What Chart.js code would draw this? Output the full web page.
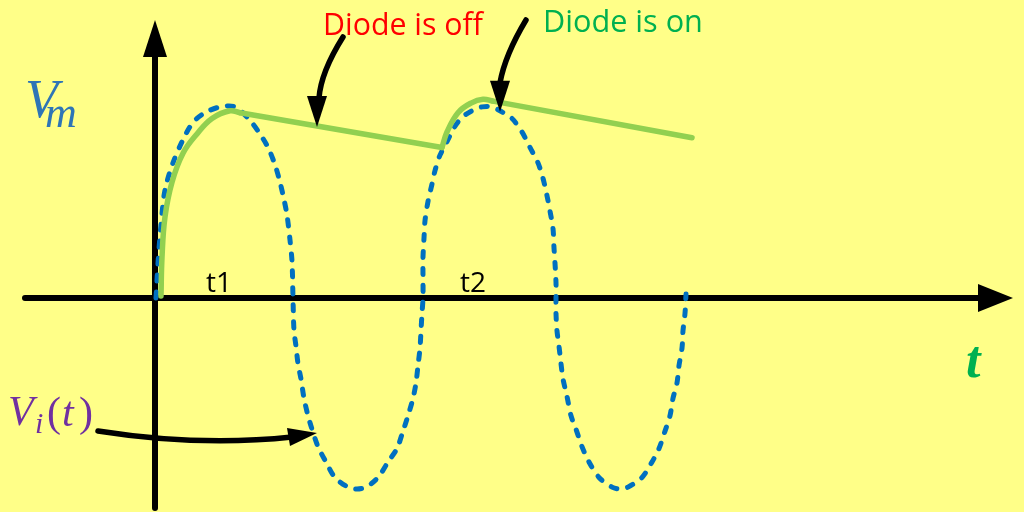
<!DOCTYPE html>
<html><head><meta charset="utf-8">
<script src="https://cdn.jsdelivr.net/npm/chart.js@4"></script>
<style>html,body{margin:0;padding:0;background:#FFFF88;overflow:hidden}#wrap{width:1024px;height:512px}</style>
</head><body><div id="wrap"><canvas id="c" width="1024" height="512"></canvas></div>
<script>
// Input voltage Vi(t) (dashed), normalised to Vm = 1
const inputT = [1,3,6,10,18,28,38,50,65,80,95,105,113,120,125,129,132,135,137,138,
  139,141,143,146,149,153,157,163,171,180,193,202,211,223,233,242,248,253,258,261,263,265,266,267,268,
  268,268,269,270,273,277,280,285,292,300,308,317,327,337,345,357,367,375,383,388,392,395,398,399,400,401,401,
  401,402,404,406,408,412,416,421,427,434,444,457,465,473,487,497,504,510,515,518,522,524,527,528,530,531];
const inputV = [0,0.18,0.38,0.56,0.70,0.82,0.91,0.96,0.99,0.99,0.92,0.85,0.78,0.69,0.60,0.51,0.43,0.30,0.19,0,
  -0.17,-0.25,-0.34,-0.42,-0.52,-0.61,-0.68,-0.77,-0.85,-0.93,-0.98,-0.99,-0.98,-0.93,-0.85,-0.78,-0.69,-0.61,-0.52,-0.44,-0.35,-0.26,-0.17,-0.08,0,
  0.10,0.21,0.31,0.40,0.50,0.59,0.66,0.74,0.81,0.89,0.94,0.97,0.99,0.99,0.97,0.93,0.86,0.78,0.70,0.62,0.53,0.45,0.36,0.26,0.18,0.08,0,
  -0.08,-0.17,-0.25,-0.34,-0.42,-0.51,-0.61,-0.68,-0.77,-0.85,-0.93,-0.98,-0.99,-0.98,-0.93,-0.85,-0.78,-0.69,-0.61,-0.52,-0.44,-0.35,-0.26,-0.17,-0.08,0.02];
// Output: diode conducting (follows input) — two pieces separated by null
const diodeOnT = [6,7,10,17,28,42,57,75,85,null,287,292,303,316,328,338];
const diodeOnV = [0.01,0.21,0.42,0.60,0.75,0.85,0.93,0.97,0.96,null,0.78,0.86,0.96,1.01,1.03,1.02];
// Output: diode off (capacitor discharge)
const diodeOffT = [85,287,null,338,537];
const diodeOffV = [0.96,0.78,null,1.02,0.83];
// Time markers on the t axis
const markerT = [64,318];
const markerLabels = ['t1','t2'];

function pts(T,V){return T.map((t,i)=>({x:t,y:V[i]}));}

const bgPlugin={id:'bg',beforeDraw(c){const g=c.ctx;g.save();g.fillStyle='#FFFF88';g.fillRect(0,0,c.width,c.height);g.restore();}};

function tri(g,a,b,d){g.beginPath();g.moveTo(a[0],a[1]);g.lineTo(b[0],b[1]);g.lineTo(d[0],d[1]);g.closePath();g.fill();}

const axesPlugin={id:'axes',beforeDatasetsDraw(c){
  const g=c.ctx,xs=c.scales.x,ys=c.scales.y;
  const x0=xs.getPixelForValue(0),y0=ys.getPixelForValue(0);
  g.save();g.strokeStyle='#000';g.fillStyle='#000';g.lineWidth=6;g.lineCap='round';
  g.beginPath();g.moveTo(x0,508);g.lineTo(x0,50);g.stroke();
  tri(g,[x0,20],[x0-12,57],[x0+12,57]);
  g.beginPath();g.moveTo(25,y0);g.lineTo(985,y0);g.stroke();
  tri(g,[1013,y0],[978,y0-14],[978,y0+14]);
  g.restore();
}};

function fitFont(g,text,style,family,w){g.font=style+' 40px '+family;const m=g.measureText(text).width;return 40*w/m;}

const annPlugin={id:'ann',afterDatasetsDraw(c){
  const g=c.ctx,xs=c.scales.x,ys=c.scales.y;
  const X=v=>xs.getPixelForValue(v),Y=v=>ys.getPixelForValue(v);
  g.save();
  // marker labels
  g.fillStyle='#000';g.font='28px "Open Sans", "Noto Sans", sans-serif';g.textAlign='center';g.textBaseline='alphabetic';
  markerLabels.forEach((s,i)=>g.fillText(s,X(markerT[i]),Y(0)-6));
  // Diode labels
  g.textAlign='left';
  let fs=fitFont(g,'Diode is off','','"Open Sans"',160);
  g.font=fs+'px "Open Sans"';g.fillStyle='#FF0000';g.fillText('Diode is off',323,35);
  fs=fitFont(g,'Diode is on','','"Open Sans"',160);
  g.font=fs+'px "Open Sans"';g.fillStyle='#00B050';g.fillText('Diode is on',543,32);
  // Vm
  g.fillStyle='#2E75B6';
  g.font='italic 54px "Liberation Serif", serif';g.fillText('V',25,117);
  g.font='italic 44px "Liberation Serif", serif';g.fillText('m',45,127);
  // Vi(t)
  g.fillStyle='#7030A0';
  g.font='italic 42px "Liberation Serif", serif';g.fillText('V',8,425);
  g.font='italic 30px "Liberation Serif", serif';g.fillText('i',35,433);
  g.font='42px "Liberation Serif", serif';g.fillText('(',47,426);
  g.font='italic 42px "Liberation Serif", serif';g.fillText('t',62,426);
  g.font='42px "Liberation Serif", serif';g.fillText(')',79,426);
  // t axis label
  g.fillStyle='#00B050';g.font='italic bold 52px "Liberation Serif", serif';g.fillText('t',966,377);
  // arrows
  g.strokeStyle='#000';g.fillStyle='#000';g.lineWidth=5.5;g.lineCap='round';
  // diode off arrow -> green discharge line
  let tx=X(162),ty=Y(0.891);
  g.beginPath();g.moveTo(tx+26,37);g.quadraticCurveTo(tx+4,72,tx+2,ty-28);g.stroke();
  tri(g,[tx,ty+1],[tx-10,ty-30],[tx+10,ty-30]);
  // diode on arrow -> peak
  tx=X(345);ty=Y(0.97);
  g.beginPath();g.moveTo(tx+26,20);g.quadraticCurveTo(tx+5,55,tx,ty-28);g.stroke();
  tri(g,[tx,ty+1],[tx-10,ty-30],[tx+10,ty-30]);
  // Vi arrow
  tx=X(162);ty=Y(-0.70);
  g.beginPath();g.moveTo(98,431);g.quadraticCurveTo(200,447,tx-25,ty+4);g.stroke();
  tri(g,[tx,ty],[tx-30,ty-5],[tx-27,ty+13]);
  g.restore();
}};

new Chart(document.getElementById('c').getContext('2d'),{
  type:'scatter',
  data:{datasets:[
    {data:pts(diodeOnT,diodeOnV),showLine:true,borderColor:'#92D050',borderWidth:5.5,pointRadius:0,tension:0.4,spanGaps:false,borderCapStyle:'round',borderJoinStyle:'round'},
    {data:pts(diodeOffT,diodeOffV),showLine:true,borderColor:'#92D050',borderWidth:5.5,pointRadius:0,tension:0,spanGaps:false,borderCapStyle:'round'},
    {data:pts(inputT,inputV),showLine:true,borderColor:'#0070C0',borderWidth:5,borderDash:[6,11],borderCapStyle:'round',pointRadius:0,tension:0.3}
  ]},
  options:{responsive:false,animation:false,events:[],layout:{padding:0},
    plugins:{legend:{display:false},tooltip:{enabled:false}},
    scales:{x:{type:'linear',display:false,min:-155,max:869},y:{type:'linear',display:false,min:-1.109,max:1.544}}},
  plugins:[bgPlugin,axesPlugin,annPlugin]
});
</script></body></html>
